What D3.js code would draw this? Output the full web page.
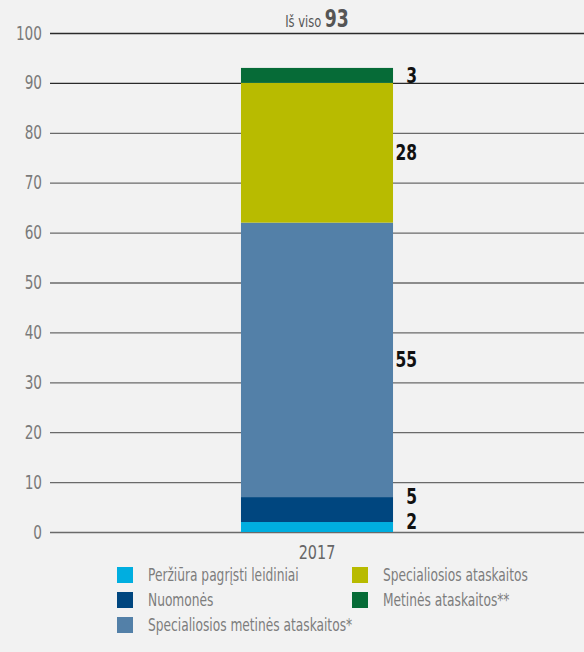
<!DOCTYPE html>
<html>
<head>
<meta charset="utf-8">
<script src="https://cdn.jsdelivr.net/npm/d3@7"></script>
<style>
  body { margin: 0; background: #f2f2f2; }
  svg { display: block; font-family: "DejaVu Sans Condensed", "Liberation Sans Narrow", sans-serif; }
</style>
</head>
<body>
<svg id="chart" width="584" height="652"></svg>
<script>
// Chart data
const years = ['2017'];
const series = ['Peržiūra pagrįsti leidiniai', 'Nuomonės', 'Specialiosios metinės ataskaitos*', 'Specialiosios ataskaitos', 'Metinės ataskaitos**'];
const values = [2, 5, 55, 28, 3];
const colors = ['#00aee0', '#00467f', '#5380a8', '#b8bb00', '#066b37'];
const yTicks = [0, 10, 20, 30, 40, 50, 60, 70, 80, 90, 100];
const totalLabel = 'Iš viso';

const svg = d3.select('#chart');
const plotLeft = 50, plotRight = 584, plotTop = 33, plotBottom = 532;
const squeeze = 0.8; // the original uses a condensed face, squash ours to match

const y = d3.scaleLinear().domain([0, 100]).range([plotBottom, plotTop]);
const x = d3.scaleBand().domain(years).range([plotLeft, plotRight]).paddingInner(0.5).paddingOuter(0.628);

// narrow text placed at (px, py)
function narrowText(parent, px, py, k) {
  return parent.append('g').attr('transform', `translate(${px},${py})`)
    .append('text').attr('transform', `scale(${k},1)`);
}

// Grid lines + tick labels
const yAxis = d3.axisLeft(y).tickValues(yTicks).tickSize(-(plotRight - plotLeft)).tickPadding(8);
const gy = svg.append('g').attr('transform', `translate(${plotLeft},0)`).call(yAxis);
gy.select('.domain').remove();
gy.selectAll('.tick line').attr('stroke', d => d >= 90 ? '#2a2a2a' : '#6a6a6a').attr('stroke-width', 1.3);
gy.selectAll('.tick text')
  .attr('x', -8 / squeeze)
  .attr('transform', `scale(${squeeze},1)`)
  .attr('fill', '#7a7a7a').style('font-size', '19px').style('font-family', '"DejaVu Sans Condensed", sans-serif');

// Stack the segments
let acc = 0;
const segs = values.map((v, i) => {
  const s = { y0: acc, y1: acc + v, v: v, color: colors[i] };
  acc += v;
  return s;
});
const total = acc;

svg.append('g').selectAll('rect').data(segs).enter().append('rect')
  .attr('x', x('2017'))
  .attr('width', x.bandwidth())
  .attr('y', d => y(d.y1))
  .attr('height', d => y(d.y0) - y(d.y1))
  .attr('fill', d => d.color);

// Value labels - nudge small ones up so they don't collide
let prev = plotBottom + 100;
segs.forEach(d => {
  let cy = (y(d.y0) + y(d.y1)) / 2;
  cy = Math.min(cy, plotBottom - 11, prev - 25);
  d.ly = cy;
  prev = cy;
});
const valG = svg.append('g');
segs.forEach(d => {
  narrowText(valG, x('2017') + x.bandwidth() + 24, d.ly, 0.82)
    .attr('dy', '0.36em')
    .attr('text-anchor', 'end')
    .style('font-size', '21px')
    .style('font-weight', 'bold')
    .attr('fill', '#111')
    .text(d.v);
});

// Total on top
const tot = narrowText(svg, x('2017') + x.bandwidth() / 2, 27, squeeze)
  .attr('text-anchor', 'middle')
  .attr('fill', '#555');
tot.append('tspan').style('font-size', '16px').text(totalLabel + ' ');
tot.append('tspan').style('font-size', '24px').style('font-weight', 'bold').text(total);

// X axis label
narrowText(svg, x('2017') + x.bandwidth() / 2, 559, squeeze)
  .attr('text-anchor', 'middle')
  .attr('fill', '#666')
  .style('font-size', '20px')
  .text(years[0]);

// Legend
const legendOrder = [0, 1, 2, 3, 4];
const legendPos = [[117, 575], [117, 600], [117, 625], [352, 575], [352, 600]];
legendOrder.forEach((d, i) => {
  const g = svg.append('g').attr('transform', `translate(${legendPos[i][0]},${legendPos[i][1]})`);
  g.append('rect').attr('x', 0).attr('y', -8).attr('width', 16).attr('height', 16).attr('fill', colors[d]);
  narrowText(g, 31, 0, squeeze)
    .attr('dy', '0.36em')
    .attr('fill', '#7d7d7d').style('font-size', '17px')
    .text(series[d]);
});
</script>
</body>
</html>
